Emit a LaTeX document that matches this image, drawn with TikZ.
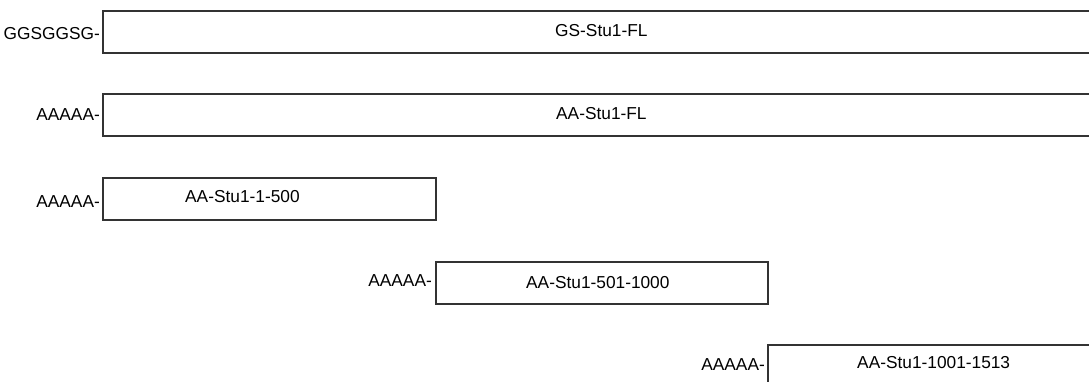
\documentclass[tikz,border=0pt]{standalone}
\usepackage{fontspec}
\setmainfont{Liberation Sans}
\begin{document}
\begin{tikzpicture}[x=1pt,y=-1pt,
  seg/.style={draw=black!80, line width=2pt, rectangle, inner sep=0pt,
    outer sep=0pt, anchor=north west, minimum height=42pt},
  cname/.style={font=\fontsize{17.3}{20}\selectfont, inner sep=0pt, anchor=base west},
  linker/.style={font=\fontsize{17.3}{20}\selectfont, inner sep=0pt, anchor=base east}]
  \clip (0,0) rectangle (1089,382);
  % constructs, one row each
  \node[seg, minimum width=1000pt] (b1) at (103,11) {};
  \node[seg, minimum width=1000pt] (b2) at (103,94) {};
  \node[seg, minimum width=333pt]  (b3) at (103,178) {};
  \node[seg, minimum width=332pt]  (b4) at (436,262) {};
  \node[seg, minimum width=332pt]  (b5) at (768,345) {};
  % construct names
  \node[cname] (t1) at (555,36.7)  {GS-Stu1-FL};
  \node[cname] (t2) at (556,120)   {AA-Stu1-FL};
  \node[cname] (t3) at (185,202.3) {AA-Stu1-1-500};
  \node[cname] (t4) at (526,288)   {AA-Stu1-501-1000};
  \node[cname] (t5) at (857,368.3) {AA-Stu1-1001-1513};
  % N-terminal linkers
  \node[linker] (l1) at (100,39.3)  {GGSGGSG-};
  \node[linker] (l2) at (100,121)   {AAAAA-};
  \node[linker] (l3) at (100,207.3) {AAAAA-};
  \node[linker] (l4) at (432,286)   {AAAAA-};
  \node[linker] (l5) at (765,370)   {AAAAA-};
\end{tikzpicture}
\end{document}
